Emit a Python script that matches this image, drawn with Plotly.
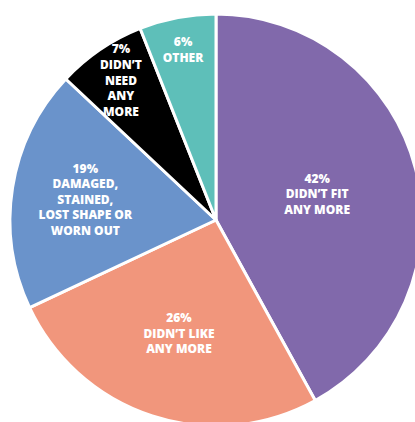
import plotly.graph_objects as go

labels = ["DIDN’T FIT<br>ANY MORE", "DIDN’T LIKE<br>ANY MORE",
          "DAMAGED,<br>STAINED,<br>LOST SHAPE OR<br>WORN OUT",
          "DIDN’T<br>NEED<br>ANY<br>MORE", "OTHER"]
values = [42, 26, 19, 7, 6]
colors = ["#8169AB", "#F1967C", "#6A93CB", "#000000", "#5EBFB9"]

W, H = 430, 430
fig = go.Figure(go.Pie(
    labels=labels, values=values, sort=False, direction="clockwise", rotation=0,
    marker=dict(colors=colors, line=dict(color="white", width=3)),
    texttemplate="%{percent:.0%}<br>%{label}", textposition="inside",
    insidetextorientation="horizontal",
    textfont=dict(family="Open Sans", size=12, color="white", weight=800),
    domain=dict(x=[10 / W, 422 / W], y=[(H - 426) / H, (H - 14) / H]),
    hoverinfo="skip", showlegend=False,
))
fig.update_layout(width=W, height=H, margin=dict(l=0, r=0, t=0, b=0),
                  paper_bgcolor="white", showlegend=False,
                  uniformtext=dict(minsize=12, mode="show"))
fig.write_html("out.html")
